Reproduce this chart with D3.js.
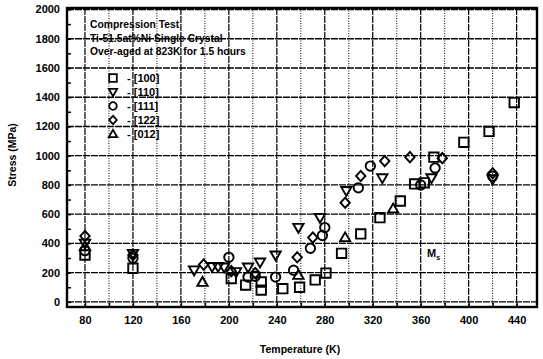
<!DOCTYPE html>
<html lang="en">
<head>
  <meta charset="UTF-8">
  <title>Compression Test</title>
  <style>
    body { margin: 0; background: #fff; }
    text { font-family: "Liberation Sans", Arial, sans-serif; font-weight: bold; fill: #000; }
  </style>
</head>
<body>
<script src="https://cdn.jsdelivr.net/npm/d3@7/dist/d3.min.js"></script>
<script>
  // data: [temperature K, stress MPa]
  var s100 = [[80,320],[120,230],[202,160],[214,115],[227,136],[227,81],[245,90],[259,100],[272,150],[281,197],
              [294,332],[310,465],[326,576],[343,690],[355,807],[363,814],[371,990],[396,1091],[417,1166],[438,1363]]
  var s110 = [[80,400],[120,330],[171,217],[186,240],[191,240],[196,237],[206,205],[216,237],[226,271],[239,319],
              [258,508],[276,576],[298,760],[328,847],[369,847],[420,840]]
  var s111 = [[80,350],[120,300],[200,305],[216,170],[222,175],[239,170],[254,217],[268,366],[278,454],[280,508],
              [308,780],[318,929],[360,800],[372,915],[420,860]]
  var s122 = [[80,450],[120,320],[179,255],[202,210],[222,197],[257,305],[270,440],[297,678],[310,861],[330,963],
              [351,990],[378,983],[420,880]]
  var s012 = [[80,380],[178,135],[258,183],[297,440],[337,637]]

  var seriesNames = ['[100]', '[110]', '[111]', '[122]', '[012]']
  var seriesShapes = ['square', 'tridown', 'circle', 'diamond', 'triup']
  var seriesData = [s100, s110, s111, s122, s012]

  var xTicks = [80, 120, 160, 200, 240, 280, 320, 360, 400, 440]
  var yTicks = [0, 200, 400, 600, 800, 1000, 1200, 1400, 1600, 1800, 2000]
  var titleLines = ['Compression Test', 'Ti-51.5at%Ni Single Crystal', 'Over-aged at 823K for 1.5 hours']

  var width = 543
  var height = 359
  var padL = 67, padR = 537, padT = 8, padB = 307

  var xScale = d3.scaleLinear().domain([65, 457]).range([padL, padR])
  var yScale = d3.scaleLinear().domain([-35, 2010]).range([padB, padT])

  var svg = d3.select('body').append('svg')
    .attr('width', width)
    .attr('height', height)

  // grid
  var grid = svg.append('g')
  grid.selectAll('line.v')
    .data(d3.range(80, 457, 20))
    .enter().append('line')
    .attr('x1', d => xScale(d)).attr('x2', d => xScale(d))
    .attr('y1', padT).attr('y2', padB)
    .attr('stroke', '#000')
    .attr('stroke-width', d => d % 40 === 0 ? 1.2 : 1)
    .attr('stroke-dasharray', d => d % 40 === 0 ? '7,1' : '1,1.5')
  grid.selectAll('line.h')
    .data(yTicks)
    .enter().append('line')
    .attr('x1', padL).attr('x2', padR)
    .attr('y1', d => yScale(d)).attr('y2', d => yScale(d))
    .attr('stroke', '#000')
    .attr('stroke-width', 1.4)
    .attr('stroke-dasharray', '7,1')

  // axes with inward ticks
  var xAxis = d3.axisBottom(xScale).tickValues(d3.range(80, 457, 20)).tickSize(-4).tickFormat(d => xTicks.includes(d) ? d : '')
  var yAxis = d3.axisLeft(yScale).tickValues(d3.range(0, 2001, 100)).tickSize(-4).tickFormat(d => yTicks.includes(d) ? d : '')

  var gx = svg.append('g').attr('transform', `translate(0,${padB})`).call(xAxis)
  var gy = svg.append('g').attr('transform', `translate(${padL},0)`).call(yAxis)
  ;[gx, gy].forEach(g => {
    g.select('.domain').remove()
    g.selectAll('line').attr('stroke', '#000').attr('stroke-width', 1.5)
    g.selectAll('text').style('font-size', '11px').style('font-family', '"Liberation Sans", Arial, sans-serif')
      .style('font-weight', 'bold').attr('fill', '#000')
  })
  gx.selectAll('text').attr('dy', '1.25em')
  gy.selectAll('text').attr('x', -7)

  svg.append('rect')
    .attr('x', padL).attr('y', padT)
    .attr('width', padR - padL).attr('height', padB - padT)
    .attr('fill', 'none').attr('stroke', '#000').attr('stroke-width', 2.4)

  // symbols
  function shapePath(shape, r) {
    if (shape === 'square') return `M${-r},${-r}H${r}V${r}H${-r}Z`
    if (shape === 'circle') return `M${r},0A${r},${r} 0 1,1 ${-r},0A${r},${r} 0 1,1 ${r},0Z`
    if (shape === 'diamond') return `M0,${-r * 1.1}L${r},0L0,${r * 1.1}L${-r},0Z`
    if (shape === 'tridown') return `M${-r * 1.1},${-r * 0.8}H${r * 1.1}L0,${r * 1.1}Z`
    if (shape === 'triup') return `M${-r * 1.1},${r * 0.8}H${r * 1.1}L0,${-r * 1.1}Z`
  }

  seriesData.forEach((data, i) => {
    svg.append('g').selectAll('path')
      .data(data)
      .enter().append('path')
      .attr('d', shapePath(seriesShapes[i], 4.7))
      .attr('transform', d => `translate(${xScale(d[0])},${yScale(d[1])})`)
      .attr('fill', 'none')
      .attr('stroke', '#000')
      .attr('stroke-width', 1.9)
  })

  // annotation text
  svg.append('g').selectAll('text')
    .data(titleLines)
    .enter().append('text')
    .attr('x', 90)
    .attr('y', (d, i) => 28 + i * 13.5)
    .attr('fill', '#000')
    .style('font-size', '10.3px')
    .text(d => d)

  var legend = svg.append('g').selectAll('g')
    .data(seriesNames)
    .enter().append('g')
    .attr('transform', (d, i) => `translate(113,${78 + i * 14})`)
  legend.append('path')
    .attr('d', (d, i) => shapePath(seriesShapes[i], 3.8))
    .attr('fill', 'none').attr('stroke', '#000').attr('stroke-width', 1.8)
  legend.append('text')
    .attr('x', 14).attr('y', 4)
    .attr('fill', '#000')
    .style('font-size', '11px')
    .text(d => '- ' + d)

  var ms = svg.append('text').attr('x', 427).attr('y', 257).attr('fill', '#000').style('font-size', '11px')
  ms.append('tspan').attr('fill', '#000').text('M')
  ms.append('tspan').attr('dy', 3).attr('fill', '#000').style('font-size', '7px').text('s')

  svg.append('text')
    .attr('x', 300).attr('y', 353)
    .attr('text-anchor', 'middle')
    .attr('fill', '#000')
    .style('font-size', '10.5px')
    .text('Temperature (K)')
  svg.append('text')
    .attr('transform', 'translate(16,155) rotate(-90)')
    .attr('text-anchor', 'middle')
    .attr('fill', '#000')
    .style('font-size', '10.5px')
    .text('Stress (MPa)')
</script>
</body>
</html>
